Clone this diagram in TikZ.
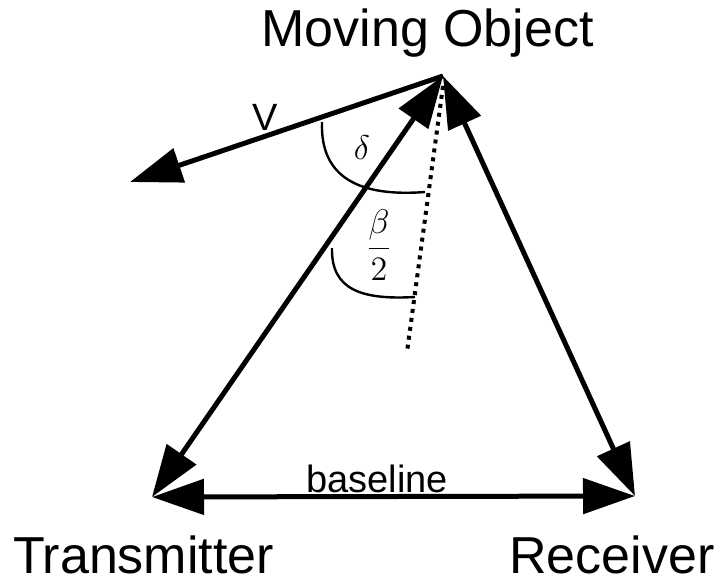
\documentclass[tikz,border=0pt]{standalone}
\usepackage{fontspec}
\setmainfont{Liberation Sans}
\usetikzlibrary{arrows.meta}
\tikzset{
  mainline/.style={line width=5pt, line cap=butt},
  bigtip/.tip={Triangle[length=52pt,width=35pt]},
  anglearc/.style={line width=2.4pt},
  dotline/.style={line width=4pt, dash pattern=on 4pt off 5pt},
  bigtext/.style={font=\fontsize{52}{62}\selectfont, inner sep=0pt, anchor=base},
  midtext/.style={font=\fontsize{38}{45}\selectfont, inner sep=0pt, anchor=base},
  mathtext/.style={font=\fontsize{12}{14}\selectfont, inner sep=0pt}
}
\begin{document}
\begin{tikzpicture}[x=1pt,y=-1pt]
\useasboundingbox (0,0) rectangle (717,584);
% key points
\coordinate (A) at (443,76);
\coordinate (T) at (152,497);
\coordinate (R) at (635,496);
\coordinate (Vt) at (130,182);
\coordinate (Ds) at (443,86);
\coordinate (De) at (407,352);
% dotted bisector
\draw[dotline] (Ds) -- (De);
% velocity
\draw[mainline, -bigtip] (A) -- (Vt);
% triangle sides
\draw[mainline, bigtip-bigtip] (T) -- (A);
\draw[mainline, bigtip-bigtip] (R) -- (A);
\draw[mainline, bigtip-bigtip] (T) -- (R);
% angle arcs
\coordinate (d1) at (322,122);
\coordinate (d2) at (425,192);
\coordinate (b1) at (332,248);
\coordinate (b2) at (415,297);
\draw[anglearc] (d1) .. controls (320,178) and (360,197) .. (d2);
\draw[anglearc] (b1) .. controls (331,290) and (362,300) .. (b2);
% labels
\node[bigtext] (mo) at (427.5,46) {Moving Object};
\node[bigtext] (tx) at (143.5,573) {Transmitter};
\node[bigtext] (rx) at (612,573) {Receiver};
\node[midtext] (bl) at (377,492) {baseline};
\node[midtext] (v) at (265,130) {V};
\node[mathtext] (dl) at (362,148) {\scalebox{2.85}{$\delta$}};
\node[mathtext] (bt) at (379,245) {\scalebox{2.85}{$\displaystyle\frac{\beta}{2}$}};
\end{tikzpicture}
\end{document}
